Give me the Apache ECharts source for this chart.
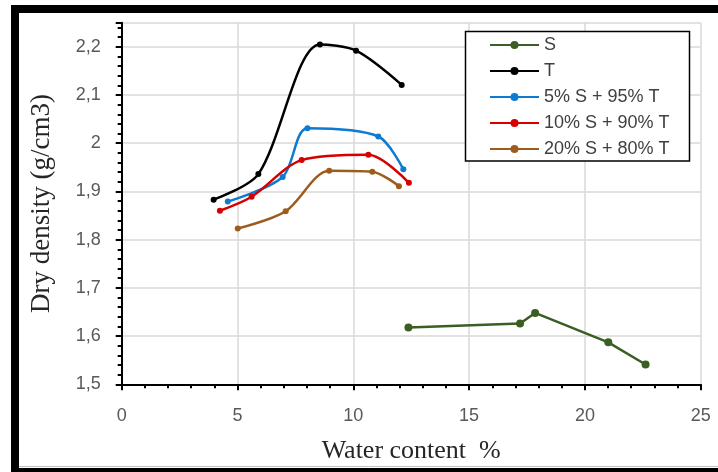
<!DOCTYPE html>
<html>
<head>
<meta charset="utf-8">
<script src="https://cdn.jsdelivr.net/npm/echarts@6/dist/echarts.min.js"></script>
<style>
html,body{margin:0;padding:0;background:#fff;}
#c{width:718px;height:472px;}
</style>
</head>
<body>
<div id="c"></div>
<script>
// Data (water content %, dry density g/cm3)
var seriesNames = ['S', 'T', '5% S + 95% T', '10% S + 90% T', '20% S + 80% T'];
var dataS = [[12.38, 1.618], [17.2, 1.626], [17.85, 1.648], [21.01, 1.587], [22.62, 1.541]];
var dataT = [[3.97, 1.883], [5.9, 1.936], [8.56, 2.205], [10.12, 2.192], [12.09, 2.121]];
var data5 = [[4.58, 1.879], [6.95, 1.93], [8.02, 2.031], [11.08, 2.014], [12.16, 1.946]];
var data10 = [[4.24, 1.860], [5.61, 1.889], [7.77, 1.965], [10.65, 1.976], [12.4, 1.918]];
var data20 = [[5.01, 1.823], [7.08, 1.859], [8.96, 1.943], [10.82, 1.941], [11.97, 1.911]];
var xTicks = [0, 5, 10, 15, 20, 25];
var yTicks = [1.5, 1.6, 1.7, 1.8, 1.9, 2.0, 2.1, 2.2];

var colors = ['#3a5f24', '#000000', '#0e7ad1', '#d60000', '#9c5c1c'];

var chart = echarts.init(document.getElementById('c'), null, {renderer: 'canvas'});

function mk(name, data, color, smooth, size) {
  return {
    name: name, type: 'line', data: data, smooth: smooth,
    symbol: 'circle', symbolSize: size,
    lineStyle: {color: color, width: 2.5},
    itemStyle: {color: color},
    emphasis: {disabled: true},
    z: 3
  };
}

chart.setOption({
  animation: false,
  backgroundColor: '#ffffff',
  grid: {left: 121.7, right: 17.3, top: 22.7, bottom: 87.7, containLabel: false},
  xAxis: {
    type: 'value', min: xTicks[0], max: xTicks[xTicks.length - 1], interval: 5,
    name: 'Water content  %', nameLocation: 'middle', nameGap: 54,
    nameTextStyle: {fontFamily: 'Liberation Serif', fontSize: 26, color: '#262626'},
    axisLine: {show: true, onZero: false, lineStyle: {color: '#000', width: 2}},
    axisTick: {show: true, length: 6, lineStyle: {color: '#000', width: 2}},
    minorTick: {show: true, splitNumber: 5, length: 4, lineStyle: {color: '#000', width: 2}},
    axisLabel: {fontFamily: 'Liberation Sans', fontSize: 18, color: '#595959', margin: 23},
    splitLine: {show: true, lineStyle: {color: '#d9d9d9', width: 1.5}}
  },
  yAxis: {
    type: 'value', min: yTicks[0], max: 2.25, interval: 0.1,
    name: 'Dry density (g/cm3)', nameLocation: 'middle', nameGap: 66, nameRotate: 90,
    nameTextStyle: {fontFamily: 'Liberation Serif', fontSize: 27, color: '#262626'},
    axisLine: {show: true, onZero: false, lineStyle: {color: '#000', width: 2}},
    axisTick: {show: true, length: 6, lineStyle: {color: '#000', width: 2}},
    minorTick: {show: true, splitNumber: 5, length: 4, lineStyle: {color: '#000', width: 2}},
    axisLabel: {
      fontFamily: 'Liberation Sans', fontSize: 18, color: '#595959', margin: 21,
      formatter: function (v) {
        for (var i = 0; i < yTicks.length; i++) {
          if (Math.abs(v - yTicks[i]) < 1e-6) return String(+yTicks[i].toFixed(1)).replace('.', ',');
        }
        return '';
      }
    },
    splitLine: {show: true, lineStyle: {color: '#d9d9d9', width: 1.5}}
  },
  legend: {
    orient: 'vertical', left: 489, top: 36, padding: 0, z: 60,
    itemWidth: 49, itemHeight: 10, itemGap: 8,
    textStyle: {fontFamily: 'Liberation Sans', fontSize: 18, color: '#404040', lineHeight: 18},
    data: seriesNames
  },
  graphic: [
    {type: 'rect', shape: {x: 15, y: 9, width: 730, height: 463}, style: {fill: 'none', stroke: '#000', lineWidth: 8}, z: 100},
    {type: 'line', shape: {x1: 19, y1: 466.5, x2: 718, y2: 466.5}, style: {stroke: '#bfbfbf', lineWidth: 1}, z: 99},
    {type: 'rect', shape: {x: 465.5, y: 31.5, width: 224, height: 129.5}, style: {fill: '#fff', stroke: '#000', lineWidth: 1.5}, z: 50}
  ],
  series: [
    mk(seriesNames[0], dataS, colors[0], false, 8),
    mk(seriesNames[1], dataT, colors[1], 0.3, 6),
    mk(seriesNames[2], data5, colors[2], 0.3, 6),
    mk(seriesNames[3], data10, colors[3], 0.3, 6),
    mk(seriesNames[4], data20, colors[4], 0.3, 6)
  ]
});
</script>
</body>
</html>
